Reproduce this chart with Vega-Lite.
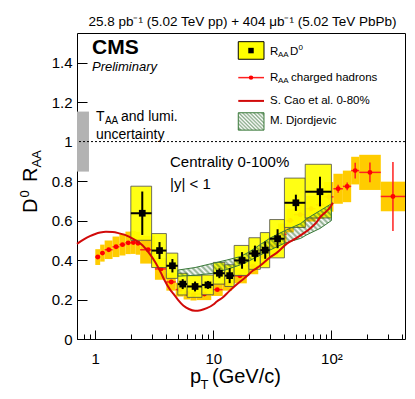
{
 "$schema": "https://vega.github.io/schema/vega-lite/v6.json",
 "width": 328,
 "height": 306,
 "autosize": "none",
 "padding": {"left": 77, "top": 33, "right": 10, "bottom": 60},
 "background": "white",
 "title": {"text": "25.8 pb⁻¹ (5.02 TeV pp) + 404 μb⁻¹ (5.02 TeV PbPb)", "anchor": "end", "fontSize": 13.5, "fontWeight": "normal", "font": "Liberation Sans", "color": "black", "offset": 5, "dx": -9},
 "config": {
  "view": {"stroke": "black", "strokeWidth": 1},
  "font": "Liberation Sans",
  "text": {"font": "Liberation Sans", "color": "black"},
  "axis": {"grid": false, "domain": false, "labelFont": "Liberation Sans", "labelColor": "black", "tickColor": "black", "labelFontSize": 15, "labelOverlap": false, "labelFlush": false, "labelBound": false}
 },
 "data": {"values": [{}]},
 "datasets": {
  "taa": [{"xlo": 0.7, "xhi": 0.884, "ylo": 0.848, "yhi": 1.152}],
  "d0": [
   {"lo": 2, "hi": 3, "pt": 2.5, "raa": 0.637, "statLo": 0.527, "statHi": 0.747, "sysLo": 0.5, "sysHi": 0.774},
   {"lo": 3, "hi": 4, "pt": 3.5, "raa": 0.448, "statLo": 0.405, "statHi": 0.491, "sysLo": 0.362, "sysHi": 0.534},
   {"lo": 4, "hi": 5, "pt": 4.5, "raa": 0.371, "statLo": 0.337, "statHi": 0.405, "sysLo": 0.307, "sysHi": 0.435},
   {"lo": 5, "hi": 6, "pt": 5.5, "raa": 0.278, "statLo": 0.253, "statHi": 0.303, "sysLo": 0.223, "sysHi": 0.333},
   {"lo": 6, "hi": 8, "pt": 7, "raa": 0.266, "statLo": 0.241, "statHi": 0.291, "sysLo": 0.211, "sysHi": 0.321},
   {"lo": 8, "hi": 10, "pt": 9, "raa": 0.274, "statLo": 0.254, "statHi": 0.294, "sysLo": 0.224, "sysHi": 0.324},
   {"lo": 10, "hi": 12.5, "pt": 11.25, "raa": 0.333, "statLo": 0.308, "statHi": 0.358, "sysLo": 0.278, "sysHi": 0.388},
   {"lo": 12.5, "hi": 15, "pt": 13.75, "raa": 0.321, "statLo": 0.283, "statHi": 0.359, "sysLo": 0.266, "sysHi": 0.376},
   {"lo": 15, "hi": 20, "pt": 17.5, "raa": 0.398, "statLo": 0.356, "statHi": 0.44, "sysLo": 0.322, "sysHi": 0.474},
   {"lo": 20, "hi": 25, "pt": 22.5, "raa": 0.433, "statLo": 0.393, "statHi": 0.473, "sysLo": 0.353, "sysHi": 0.513},
   {"lo": 25, "hi": 30, "pt": 27.5, "raa": 0.45, "statLo": 0.406, "statHi": 0.494, "sysLo": 0.361, "sysHi": 0.539},
   {"lo": 30, "hi": 40, "pt": 35, "raa": 0.508, "statLo": 0.46, "statHi": 0.556, "sysLo": 0.411, "sysHi": 0.605},
   {"lo": 40, "hi": 60, "pt": 50, "raa": 0.69, "statLo": 0.649, "statHi": 0.731, "sysLo": 0.565, "sysHi": 0.815},
   {"lo": 60, "hi": 100, "pt": 80, "raa": 0.746, "statLo": 0.672, "statHi": 0.822, "sysLo": 0.613, "sysHi": 0.885}
  ],
  "ch": [
   {"lo": 1.0, "hi": 1.1, "pt": 1.05, "raa": 0.415, "statLo": 0.41, "statHi": 0.42, "sysLo": 0.375, "sysHi": 0.455},
   {"lo": 1.1, "hi": 1.2, "pt": 1.15, "raa": 0.435, "statLo": 0.43, "statHi": 0.44, "sysLo": 0.392, "sysHi": 0.478},
   {"lo": 1.2, "hi": 1.4, "pt": 1.3, "raa": 0.452, "statLo": 0.447, "statHi": 0.457, "sysLo": 0.405, "sysHi": 0.499},
   {"lo": 1.4, "hi": 1.6, "pt": 1.5, "raa": 0.467, "statLo": 0.462, "statHi": 0.472, "sysLo": 0.415, "sysHi": 0.519},
   {"lo": 1.6, "hi": 1.8, "pt": 1.7, "raa": 0.478, "statLo": 0.473, "statHi": 0.483, "sysLo": 0.423, "sysHi": 0.533},
   {"lo": 1.8, "hi": 2.0, "pt": 1.9, "raa": 0.487, "statLo": 0.482, "statHi": 0.492, "sysLo": 0.43, "sysHi": 0.544},
   {"lo": 2.0, "hi": 2.2, "pt": 2.1, "raa": 0.489, "statLo": 0.484, "statHi": 0.494, "sysLo": 0.431, "sysHi": 0.547},
   {"lo": 2.2, "hi": 2.4, "pt": 2.3, "raa": 0.485, "statLo": 0.48, "statHi": 0.49, "sysLo": 0.427, "sysHi": 0.543},
   {"lo": 2.4, "hi": 3.2, "pt": 2.8, "raa": 0.452, "statLo": 0.447, "statHi": 0.457, "sysLo": 0.382, "sysHi": 0.522},
   {"lo": 3.2, "hi": 4.0, "pt": 3.6, "raa": 0.355, "statLo": 0.35, "statHi": 0.36, "sysLo": 0.3, "sysHi": 0.41},
   {"lo": 4.0, "hi": 4.8, "pt": 4.4, "raa": 0.289, "statLo": 0.284, "statHi": 0.294, "sysLo": 0.245, "sysHi": 0.333},
   {"lo": 4.8, "hi": 5.6, "pt": 5.2, "raa": 0.25, "statLo": 0.245, "statHi": 0.255, "sysLo": 0.215, "sysHi": 0.285},
   {"lo": 5.6, "hi": 6.4, "pt": 6.0, "raa": 0.232, "statLo": 0.227, "statHi": 0.237, "sysLo": 0.2, "sysHi": 0.264},
   {"lo": 6.4, "hi": 7.2, "pt": 6.8, "raa": 0.225, "statLo": 0.22, "statHi": 0.23, "sysLo": 0.195, "sysHi": 0.255},
   {"lo": 7.2, "hi": 9.6, "pt": 8.4, "raa": 0.228, "statLo": 0.223, "statHi": 0.233, "sysLo": 0.197, "sysHi": 0.259},
   {"lo": 9.6, "hi": 12, "pt": 10.8, "raa": 0.25, "statLo": 0.245, "statHi": 0.255, "sysLo": 0.218, "sysHi": 0.282},
   {"lo": 12, "hi": 14.4, "pt": 13.2, "raa": 0.28, "statLo": 0.275, "statHi": 0.285, "sysLo": 0.245, "sysHi": 0.315},
   {"lo": 14.4, "hi": 19.2, "pt": 16.8, "raa": 0.32, "statLo": 0.315, "statHi": 0.325, "sysLo": 0.282, "sysHi": 0.358},
   {"lo": 19.2, "hi": 24, "pt": 21.6, "raa": 0.37, "statLo": 0.364, "statHi": 0.376, "sysLo": 0.328, "sysHi": 0.412},
   {"lo": 24, "hi": 28.8, "pt": 26.4, "raa": 0.42, "statLo": 0.413, "statHi": 0.427, "sysLo": 0.375, "sysHi": 0.465},
   {"lo": 28.8, "hi": 35.2, "pt": 32, "raa": 0.47, "statLo": 0.462, "statHi": 0.478, "sysLo": 0.42, "sysHi": 0.52},
   {"lo": 35.2, "hi": 41.6, "pt": 38.4, "raa": 0.53, "statLo": 0.52, "statHi": 0.54, "sysLo": 0.475, "sysHi": 0.585},
   {"lo": 41.6, "hi": 48, "pt": 44.8, "raa": 0.6, "statLo": 0.59, "statHi": 0.61, "sysLo": 0.54, "sysHi": 0.66},
   {"lo": 48, "hi": 60.8, "pt": 54.4, "raa": 0.63, "statLo": 0.62, "statHi": 0.64, "sysLo": 0.565, "sysHi": 0.695},
   {"lo": 60.8, "hi": 73.6, "pt": 67.2, "raa": 0.66, "statLo": 0.648, "statHi": 0.672, "sysLo": 0.595, "sysHi": 0.725},
   {"lo": 73.6, "hi": 86.4, "pt": 80, "raa": 0.68, "statLo": 0.666, "statHi": 0.694, "sysLo": 0.61, "sysHi": 0.75},
   {"lo": 86.4, "hi": 104, "pt": 95, "raa": 0.72, "statLo": 0.705, "statHi": 0.735, "sysLo": 0.645, "sysHi": 0.795},
   {"lo": 104, "hi": 125, "pt": 114, "raa": 0.761, "statLo": 0.741, "statHi": 0.781, "sysLo": 0.685, "sysHi": 0.837},
   {"lo": 125, "hi": 147, "pt": 136, "raa": 0.773, "statLo": 0.753, "statHi": 0.793, "sysLo": 0.693, "sysHi": 0.853},
   {"lo": 147, "hi": 172, "pt": 159, "raa": 0.853, "statLo": 0.813, "statHi": 0.893, "sysLo": 0.783, "sysHi": 0.923},
   {"lo": 172, "hi": 262, "pt": 212, "raa": 0.844, "statLo": 0.794, "statHi": 0.894, "sysLo": 0.755, "sysHi": 0.933},
   {"lo": 262, "hi": 420, "pt": 332, "raa": 0.722, "statLo": 0.547, "statHi": 0.897, "sysLo": 0.647, "sysHi": 0.797}
  ],
  "cao": [
   {"pt": 0.7, "raa": 0.482}, {"pt": 0.8, "raa": 0.505}, {"pt": 0.9, "raa": 0.521}, {"pt": 1.0, "raa": 0.532},
   {"pt": 1.1, "raa": 0.539}, {"pt": 1.23, "raa": 0.543}, {"pt": 1.4, "raa": 0.542}, {"pt": 1.6, "raa": 0.535},
   {"pt": 1.93, "raa": 0.519}, {"pt": 2.2, "raa": 0.5}, {"pt": 2.51, "raa": 0.475}, {"pt": 2.9, "raa": 0.43},
   {"pt": 3.26, "raa": 0.384}, {"pt": 3.6, "raa": 0.335}, {"pt": 3.84, "raa": 0.3}, {"pt": 4.3, "raa": 0.25},
   {"pt": 4.6, "raa": 0.228}, {"pt": 5.0, "raa": 0.2}, {"pt": 5.56, "raa": 0.17}, {"pt": 6.2, "raa": 0.152},
   {"pt": 7.0, "raa": 0.143}, {"pt": 7.8, "raa": 0.146}, {"pt": 8.8, "raa": 0.156}, {"pt": 10, "raa": 0.175},
   {"pt": 10.7, "raa": 0.19}, {"pt": 12, "raa": 0.21}, {"pt": 13.5, "raa": 0.24}, {"pt": 14.8, "raa": 0.262},
   {"pt": 16.8, "raa": 0.29}, {"pt": 18.5, "raa": 0.31}, {"pt": 21.8, "raa": 0.348}, {"pt": 25, "raa": 0.372},
   {"pt": 30.4, "raa": 0.415}, {"pt": 35, "raa": 0.44}, {"pt": 41.9, "raa": 0.483}, {"pt": 50, "raa": 0.51},
   {"pt": 58, "raa": 0.535}, {"pt": 66, "raa": 0.56}, {"pt": 75, "raa": 0.592}, {"pt": 80.5, "raa": 0.618},
   {"pt": 90, "raa": 0.645}, {"pt": 97, "raa": 0.665}, {"pt": 103, "raa": 0.69}
  ],
  "djo": [
   {"pt": 5, "lo": 0.318, "hi": 0.349}, {"pt": 7, "lo": 0.323, "hi": 0.362}, {"pt": 10, "lo": 0.333, "hi": 0.384},
   {"pt": 13, "lo": 0.352, "hi": 0.4}, {"pt": 16.8, "lo": 0.375, "hi": 0.417}, {"pt": 20, "lo": 0.395, "hi": 0.44},
   {"pt": 30, "lo": 0.45, "hi": 0.51}, {"pt": 40, "lo": 0.485, "hi": 0.548}, {"pt": 55, "lo": 0.51, "hi": 0.585},
   {"pt": 62, "lo": 0.528, "hi": 0.61}, {"pt": 80, "lo": 0.56, "hi": 0.65}, {"pt": 100, "lo": 0.6, "hi": 0.685}
  ]
 },
 "layer": [
  {
   "data": {"name": "taa"},
   "mark": {"type": "rect", "fill": "#b3b3b3"},
   "encoding": {
    "x": {"field": "xlo", "type": "quantitative", "scale": {"type": "log", "domain": [0.7, 420], "nice": false},
     "axis": {"title": null, "values": [0.7,0.8,0.9,1,2,3,4,5,6,7,8,9,10,20,30,40,50,60,70,80,90,100,200,300,400],
      "labelExpr": "datum.value==1 ? '1' : datum.value==10 ? '10' : datum.value==100 ? '10²' : ''",
      "tickSize": {"condition": {"test": "datum.value==1 || datum.value==10 || datum.value==100", "value": -9}, "value": -5},
      "labelPadding": 21}},
    "x2": {"field": "xhi"},
    "y": {"field": "ylo", "type": "quantitative", "scale": {"domain": [0, 1.55], "nice": false, "zero": false},
     "axis": {"title": null, "values": [0,0.05,0.1,0.15,0.2,0.25,0.3,0.35,0.4,0.45,0.5,0.55,0.6,0.65,0.7,0.75,0.8,0.85,0.9,0.95,1,1.05,1.1,1.15,1.2,1.25,1.3,1.35,1.4,1.45,1.5],
      "labelExpr": "abs(datum.value*5 - round(datum.value*5)) < 0.01 ? format(datum.value, '.1~f') : ''",
      "tickSize": {"condition": {"test": "abs(datum.value*5 - round(datum.value*5)) < 0.01", "value": -10}, "value": -5},
      "labelPadding": 15}},
    "y2": {"field": "yhi"}
   }
  },
  {
   "mark": {"type": "rule", "color": "black", "strokeWidth": 1, "strokeDash": [2, 2]},
   "encoding": {"y": {"datum": 1}}
  },
  {
   "data": {"name": "ch"},
   "mark": {"type": "rect", "fill": "#ffcc00", "clip": true},
   "encoding": {"x": {"field": "lo", "type": "quantitative"}, "x2": {"field": "hi"}, "y": {"field": "sysLo", "type": "quantitative"}, "y2": {"field": "sysHi"}}
  },
  {
   "data": {"name": "ch"},
   "mark": {"type": "rule", "color": "#ff2020", "strokeWidth": 1.5, "clip": true},
   "encoding": {"x": {"field": "pt", "type": "quantitative"}, "y": {"field": "statLo", "type": "quantitative"}, "y2": {"field": "statHi"}}
  },
  {
   "data": {"name": "ch"},
   "mark": {"type": "rule", "color": "#ff2020", "strokeWidth": 1.5, "clip": true},
   "encoding": {"x": {"field": "lo", "type": "quantitative"}, "x2": {"field": "hi"}, "y": {"field": "raa", "type": "quantitative"}}
  },
  {
   "data": {"name": "ch"},
   "mark": {"type": "point", "shape": "circle", "filled": true, "color": "#ff0000", "size": 24, "opacity": 1},
   "encoding": {"x": {"field": "pt", "type": "quantitative"}, "y": {"field": "raa", "type": "quantitative"}}
  },
  {
   "data": {"name": "d0"},
   "mark": {"type": "rect", "fill": "#ffff00", "fillOpacity": 0.92, "stroke": "#4d4d4d", "strokeWidth": 0.8},
   "encoding": {"x": {"field": "lo", "type": "quantitative"}, "x2": {"field": "hi"}, "y": {"field": "sysLo", "type": "quantitative"}, "y2": {"field": "sysHi"}}
  },
  {
   "data": {"name": "djo"},
   "mark": {"type": "area", "stroke": "#3a7a3a", "strokeWidth": 1,
    "fill": {"gradient": "linear", "x1": -0.1, "y1": 0.782, "x2": 1.1, "y2": 0.218, "stops": [
     {"offset": 0, "color": "rgba(40,100,40,0.55)"}, {"offset": 0.0125, "color": "rgba(40,100,40,0)"},
     {"offset": 0.025, "color": "rgba(40,100,40,0.55)"}, {"offset": 0.0375, "color": "rgba(40,100,40,0)"},
     {"offset": 0.05, "color": "rgba(40,100,40,0.55)"}, {"offset": 0.0625, "color": "rgba(40,100,40,0)"},
     {"offset": 0.075, "color": "rgba(40,100,40,0.55)"}, {"offset": 0.0875, "color": "rgba(40,100,40,0)"},
     {"offset": 0.1, "color": "rgba(40,100,40,0.55)"}, {"offset": 0.1125, "color": "rgba(40,100,40,0)"},
     {"offset": 0.125, "color": "rgba(40,100,40,0.55)"}, {"offset": 0.1375, "color": "rgba(40,100,40,0)"},
     {"offset": 0.15, "color": "rgba(40,100,40,0.55)"}, {"offset": 0.1625, "color": "rgba(40,100,40,0)"},
     {"offset": 0.175, "color": "rgba(40,100,40,0.55)"}, {"offset": 0.1875, "color": "rgba(40,100,40,0)"},
     {"offset": 0.2, "color": "rgba(40,100,40,0.55)"}, {"offset": 0.2125, "color": "rgba(40,100,40,0)"},
     {"offset": 0.225, "color": "rgba(40,100,40,0.55)"}, {"offset": 0.2375, "color": "rgba(40,100,40,0)"},
     {"offset": 0.25, "color": "rgba(40,100,40,0.55)"}, {"offset": 0.2625, "color": "rgba(40,100,40,0)"},
     {"offset": 0.275, "color": "rgba(40,100,40,0.55)"}, {"offset": 0.2875, "color": "rgba(40,100,40,0)"},
     {"offset": 0.3, "color": "rgba(40,100,40,0.55)"}, {"offset": 0.3125, "color": "rgba(40,100,40,0)"},
     {"offset": 0.325, "color": "rgba(40,100,40,0.55)"}, {"offset": 0.3375, "color": "rgba(40,100,40,0)"},
     {"offset": 0.35, "color": "rgba(40,100,40,0.55)"}, {"offset": 0.3625, "color": "rgba(40,100,40,0)"},
     {"offset": 0.375, "color": "rgba(40,100,40,0.55)"}, {"offset": 0.3875, "color": "rgba(40,100,40,0)"},
     {"offset": 0.4, "color": "rgba(40,100,40,0.55)"}, {"offset": 0.4125, "color": "rgba(40,100,40,0)"},
     {"offset": 0.425, "color": "rgba(40,100,40,0.55)"}, {"offset": 0.4375, "color": "rgba(40,100,40,0)"},
     {"offset": 0.45, "color": "rgba(40,100,40,0.55)"}, {"offset": 0.4625, "color": "rgba(40,100,40,0)"},
     {"offset": 0.475, "color": "rgba(40,100,40,0.55)"}, {"offset": 0.4875, "color": "rgba(40,100,40,0)"},
     {"offset": 0.5, "color": "rgba(40,100,40,0.55)"}, {"offset": 0.5125, "color": "rgba(40,100,40,0)"},
     {"offset": 0.525, "color": "rgba(40,100,40,0.55)"}, {"offset": 0.5375, "color": "rgba(40,100,40,0)"},
     {"offset": 0.55, "color": "rgba(40,100,40,0.55)"}, {"offset": 0.5625, "color": "rgba(40,100,40,0)"},
     {"offset": 0.575, "color": "rgba(40,100,40,0.55)"}, {"offset": 0.5875, "color": "rgba(40,100,40,0)"},
     {"offset": 0.6, "color": "rgba(40,100,40,0.55)"}, {"offset": 0.6125, "color": "rgba(40,100,40,0)"},
     {"offset": 0.625, "color": "rgba(40,100,40,0.55)"}, {"offset": 0.6375, "color": "rgba(40,100,40,0)"},
     {"offset": 0.65, "color": "rgba(40,100,40,0.55)"}, {"offset": 0.6625, "color": "rgba(40,100,40,0)"},
     {"offset": 0.675, "color": "rgba(40,100,40,0.55)"}, {"offset": 0.6875, "color": "rgba(40,100,40,0)"},
     {"offset": 0.7, "color": "rgba(40,100,40,0.55)"}, {"offset": 0.7125, "color": "rgba(40,100,40,0)"},
     {"offset": 0.725, "color": "rgba(40,100,40,0.55)"}, {"offset": 0.7375, "color": "rgba(40,100,40,0)"},
     {"offset": 0.75, "color": "rgba(40,100,40,0.55)"}, {"offset": 0.7625, "color": "rgba(40,100,40,0)"},
     {"offset": 0.775, "color": "rgba(40,100,40,0.55)"}, {"offset": 0.7875, "color": "rgba(40,100,40,0)"},
     {"offset": 0.8, "color": "rgba(40,100,40,0.55)"}, {"offset": 0.8125, "color": "rgba(40,100,40,0)"},
     {"offset": 0.825, "color": "rgba(40,100,40,0.55)"}, {"offset": 0.8375, "color": "rgba(40,100,40,0)"},
     {"offset": 0.85, "color": "rgba(40,100,40,0.55)"}, {"offset": 0.8625, "color": "rgba(40,100,40,0)"},
     {"offset": 0.875, "color": "rgba(40,100,40,0.55)"}, {"offset": 0.8875, "color": "rgba(40,100,40,0)"},
     {"offset": 0.9, "color": "rgba(40,100,40,0.55)"}, {"offset": 0.9125, "color": "rgba(40,100,40,0)"},
     {"offset": 0.925, "color": "rgba(40,100,40,0.55)"}, {"offset": 0.9375, "color": "rgba(40,100,40,0)"},
     {"offset": 0.95, "color": "rgba(40,100,40,0.55)"}, {"offset": 0.9625, "color": "rgba(40,100,40,0)"},
     {"offset": 0.975, "color": "rgba(40,100,40,0.55)"}, {"offset": 0.9875, "color": "rgba(40,100,40,0)"},
     {"offset": 1, "color": "rgba(40,100,40,0.55)"}
    ]}},
   "encoding": {"x": {"field": "pt", "type": "quantitative"}, "y": {"field": "lo", "type": "quantitative"}, "y2": {"field": "hi"}}
  },
  {
   "data": {"name": "cao"},
   "mark": {"type": "line", "color": "#d10a0a", "strokeWidth": 2, "interpolate": "monotone"},
   "encoding": {"x": {"field": "pt", "type": "quantitative"}, "y": {"field": "raa", "type": "quantitative"}}
  },
  {
   "data": {"name": "d0"},
   "mark": {"type": "rule", "color": "black", "strokeWidth": 2},
   "encoding": {"x": {"field": "pt", "type": "quantitative"}, "y": {"field": "statLo", "type": "quantitative"}, "y2": {"field": "statHi"}}
  },
  {
   "data": {"name": "d0"},
   "mark": {"type": "rule", "color": "black", "strokeWidth": 2},
   "encoding": {"x": {"field": "lo", "type": "quantitative"}, "x2": {"field": "hi"}, "y": {"field": "raa", "type": "quantitative"}}
  },
  {
   "data": {"name": "d0"},
   "mark": {"type": "point", "shape": "square", "filled": true, "color": "black", "size": 45, "opacity": 1},
   "encoding": {"x": {"field": "pt", "type": "quantitative"}, "y": {"field": "raa", "type": "quantitative"}}
  },
  {"mark": {"type": "text", "align": "left", "baseline": "alphabetic", "fontSize": 21, "fontWeight": "bold"}, "encoding": {"x": {"datum": 0.938}, "y": {"datum": 1.444}, "text": {"value": "CMS"}}},
  {"mark": {"type": "text", "align": "left", "baseline": "alphabetic", "fontSize": 13, "fontStyle": "italic"}, "encoding": {"x": {"datum": 0.938}, "y": {"datum": 1.358}, "text": {"value": "Preliminary"}}},
  {"mark": {"type": "text", "align": "left", "baseline": "alphabetic", "fontSize": 14}, "encoding": {"x": {"datum": 1.013}, "y": {"datum": 1.106}, "text": {"value": "T"}}},
  {"mark": {"type": "text", "align": "left", "baseline": "alphabetic", "fontSize": 10, "dx": 9, "dy": 3}, "encoding": {"x": {"datum": 1.013}, "y": {"datum": 1.106}, "text": {"value": "AA"}}},
  {"mark": {"type": "text", "align": "left", "baseline": "alphabetic", "fontSize": 14, "dx": 25}, "encoding": {"x": {"datum": 1.013}, "y": {"datum": 1.106}, "text": {"value": "and lumi."}}},
  {"mark": {"type": "text", "align": "left", "baseline": "alphabetic", "fontSize": 14}, "encoding": {"x": {"datum": 1.013}, "y": {"datum": 1.012}, "text": {"value": "uncertainty"}}},
  {"mark": {"type": "text", "align": "left", "baseline": "alphabetic", "fontSize": 15}, "encoding": {"x": {"datum": 4.295}, "y": {"datum": 0.873}, "text": {"value": "Centrality 0-100%"}}},
  {"mark": {"type": "text", "align": "left", "baseline": "alphabetic", "fontSize": 15}, "encoding": {"x": {"datum": 4.295}, "y": {"datum": 0.76}, "text": {"value": "|y| < 1"}}},
  {"mark": {"type": "rect", "fill": "#ffff00", "stroke": "black", "strokeWidth": 1}, "encoding": {"x": {"datum": 16.26}, "x2": {"datum": 26.85}, "y": {"datum": 1.417}, "y2": {"datum": 1.506}}},
  {"mark": {"type": "point", "shape": "square", "filled": true, "color": "black", "size": 30, "opacity": 1}, "encoding": {"x": {"datum": 20.84}, "y": {"datum": 1.461}}},
  {"mark": {"type": "rule", "color": "#ff2020", "strokeWidth": 1.5}, "encoding": {"x": {"datum": 16.26}, "x2": {"datum": 26.85}, "y": {"datum": 1.324}}},
  {"mark": {"type": "point", "shape": "circle", "filled": true, "color": "#ff0000", "size": 20, "opacity": 1}, "encoding": {"x": {"datum": 20.84}, "y": {"datum": 1.324}}},
  {"mark": {"type": "rule", "color": "#d10a0a", "strokeWidth": 2}, "encoding": {"x": {"datum": 16.26}, "x2": {"datum": 26.85}, "y": {"datum": 1.206}}},
  {"mark": {"type": "rect", "stroke": "#3a7a3a", "strokeWidth": 1,
    "fill": {"gradient": "linear", "x1": 0, "y1": 0.838, "x2": 1, "y2": 0.162, "stops": [
     {"offset": 0, "color": "rgba(40,100,40,0.55)"}, {"offset": 0.05, "color": "rgba(40,100,40,0)"},
     {"offset": 0.1, "color": "rgba(40,100,40,0.55)"}, {"offset": 0.15, "color": "rgba(40,100,40,0)"},
     {"offset": 0.2, "color": "rgba(40,100,40,0.55)"}, {"offset": 0.25, "color": "rgba(40,100,40,0)"},
     {"offset": 0.3, "color": "rgba(40,100,40,0.55)"}, {"offset": 0.35, "color": "rgba(40,100,40,0)"},
     {"offset": 0.4, "color": "rgba(40,100,40,0.55)"}, {"offset": 0.45, "color": "rgba(40,100,40,0)"},
     {"offset": 0.5, "color": "rgba(40,100,40,0.55)"}, {"offset": 0.55, "color": "rgba(40,100,40,0)"},
     {"offset": 0.6, "color": "rgba(40,100,40,0.55)"}, {"offset": 0.65, "color": "rgba(40,100,40,0)"},
     {"offset": 0.7, "color": "rgba(40,100,40,0.55)"}, {"offset": 0.75, "color": "rgba(40,100,40,0)"},
     {"offset": 0.8, "color": "rgba(40,100,40,0.55)"}, {"offset": 0.85, "color": "rgba(40,100,40,0)"},
     {"offset": 0.9, "color": "rgba(40,100,40,0.55)"}, {"offset": 0.95, "color": "rgba(40,100,40,0)"},
     {"offset": 1, "color": "rgba(40,100,40,0.55)"}
    ]}},
   "encoding": {"x": {"datum": 16.26}, "x2": {"datum": 26.85}, "y": {"datum": 1.058}, "y2": {"datum": 1.146}}},
  {"mark": {"type": "text", "align": "left", "baseline": "middle", "fontSize": 11.5}, "encoding": {"x": {"datum": 30.18}, "y": {"datum": 1.456}, "text": {"value": "R"}}},
  {"mark": {"type": "text", "align": "left", "baseline": "middle", "fontSize": 8, "dx": 8, "dy": 3}, "encoding": {"x": {"datum": 30.18}, "y": {"datum": 1.456}, "text": {"value": "AA"}}},
  {"mark": {"type": "text", "align": "left", "baseline": "middle", "fontSize": 11.5, "dx": 20}, "encoding": {"x": {"datum": 30.18}, "y": {"datum": 1.456}, "text": {"value": "D"}}},
  {"mark": {"type": "text", "align": "left", "baseline": "middle", "fontSize": 8, "dx": 28.5, "dy": -4}, "encoding": {"x": {"datum": 30.18}, "y": {"datum": 1.456}, "text": {"value": "0"}}},
  {"mark": {"type": "text", "align": "left", "baseline": "middle", "fontSize": 11.5}, "encoding": {"x": {"datum": 30.18}, "y": {"datum": 1.324}, "text": {"value": "R"}}},
  {"mark": {"type": "text", "align": "left", "baseline": "middle", "fontSize": 8, "dx": 8, "dy": 3}, "encoding": {"x": {"datum": 30.18}, "y": {"datum": 1.324}, "text": {"value": "AA"}}},
  {"mark": {"type": "text", "align": "left", "baseline": "middle", "fontSize": 11.5, "dx": 21}, "encoding": {"x": {"datum": 30.18}, "y": {"datum": 1.324}, "text": {"value": "charged hadrons"}}},
  {"mark": {"type": "text", "align": "left", "baseline": "middle", "fontSize": 11.5}, "encoding": {"x": {"datum": 30.18}, "y": {"datum": 1.206}, "text": {"value": "S. Cao et al. 0-80%"}}},
  {"mark": {"type": "text", "align": "left", "baseline": "middle", "fontSize": 11.5}, "encoding": {"x": {"datum": 30.18}, "y": {"datum": 1.104}, "text": {"value": "M. Djordjevic"}}},
  {"mark": {"type": "text", "align": "left", "baseline": "alphabetic", "fontSize": 20}, "encoding": {"x": {"datum": 6.34}, "y": {"datum": -0.221}, "text": {"value": "p"}}},
  {"mark": {"type": "text", "align": "left", "baseline": "alphabetic", "fontSize": 13, "dx": 10.5, "dy": 6}, "encoding": {"x": {"datum": 6.34}, "y": {"datum": -0.221}, "text": {"value": "T"}}},
  {"mark": {"type": "text", "align": "left", "baseline": "alphabetic", "fontSize": 20, "dx": 22}, "encoding": {"x": {"datum": 6.34}, "y": {"datum": -0.221}, "text": {"value": "(GeV/c)"}}},
  {"mark": {"type": "text", "align": "left", "baseline": "alphabetic", "fontSize": 20, "angle": 270}, "encoding": {"x": {"datum": 0.321}, "y": {"datum": 0.638}, "text": {"value": "D"}}},
  {"mark": {"type": "text", "align": "left", "baseline": "alphabetic", "fontSize": 13, "angle": 270, "dx": 15.5, "dy": -8}, "encoding": {"x": {"datum": 0.321}, "y": {"datum": 0.638}, "text": {"value": "0"}}},
  {"mark": {"type": "text", "align": "left", "baseline": "alphabetic", "fontSize": 20, "angle": 270, "dx": 31}, "encoding": {"x": {"datum": 0.321}, "y": {"datum": 0.638}, "text": {"value": "R"}}},
  {"mark": {"type": "text", "align": "left", "baseline": "alphabetic", "fontSize": 13, "angle": 270, "dx": 45.5, "dy": 4}, "encoding": {"x": {"datum": 0.321}, "y": {"datum": 0.638}, "text": {"value": "AA"}}}
 ]
}
